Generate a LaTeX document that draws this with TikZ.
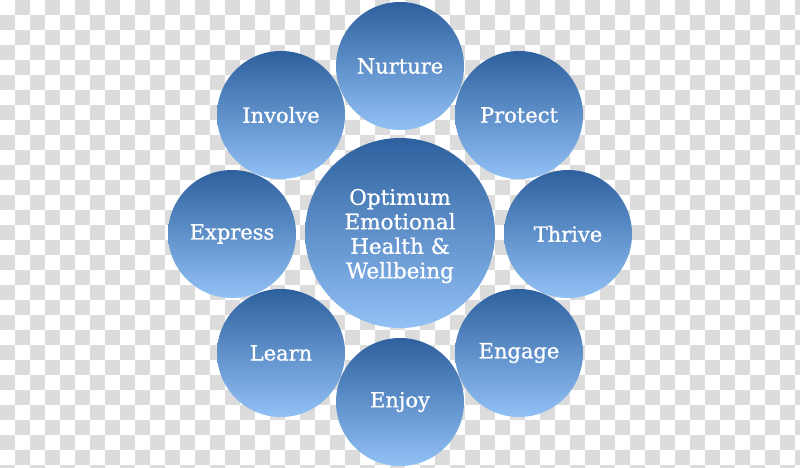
\documentclass[tikz,border=0pt]{standalone}
\usepackage{fontspec}
\setmainfont{DejaVu Serif}[BoldFont=DejaVu Serif, BoldFeatures={FakeBold=0.8}]
\definecolor{checkgrey}{RGB}{220,220,220}
\definecolor{bubtop}{RGB}{45,96,158}
\definecolor{bubbot}{RGB}{146,193,246}
\tikzset{
  bubble/.style={circle, inner sep=0pt, minimum size=128pt, top color=bubtop, bottom color=bubbot, text=white, font=\fontsize{21}{24}\selectfont\bfseries},
  hub/.style={circle, inner sep=0pt, minimum size=190pt, top color=bubtop, bottom color=bubbot},
  hubtext/.style={text=white, align=center, inner sep=0pt, font=\fontsize{21.5}{24.5}\selectfont\bfseries}
}
\begin{document}
\begin{tikzpicture}[x=1pt,y=-1pt]
\useasboundingbox (0,0) rectangle (800,468);
\fill[white] (0,0) rectangle (800,468);
\begin{scope}
\clip (0,0) rectangle (800,468);
\foreach \j in {0,...,31} {
  \pgfmathtruncatemacro\s{mod(\j+1,2)}
  \foreach \k in {0,...,26} {
    \fill[checkgrey] ({15*(2*\k+\s)},{15*\j}) rectangle +(15,15);
  }
}
\end{scope}
\node[hub] (center) at (400,233) {};
\node[hubtext] (centertext) at (400,236) {Optimum\\Emotional\\Health \&\\Wellbeing};
\node[bubble] (nurture) at (400,66) {Nurture};
\node[bubble] (protect) at (519,115) {Protect};
\node[bubble] (thrive) at (568,234) {Thrive};
\node[bubble] (engage) at (519,353) {Engage};
\node[bubble] (enjoy) at (400,402) {Enjoy};
\node[bubble] (learn) at (281,353) {Learn};
\node[bubble] (express) at (232,234) {Express};
\node[bubble] (involve) at (281,115) {Involve};
\end{tikzpicture}
\end{document}
